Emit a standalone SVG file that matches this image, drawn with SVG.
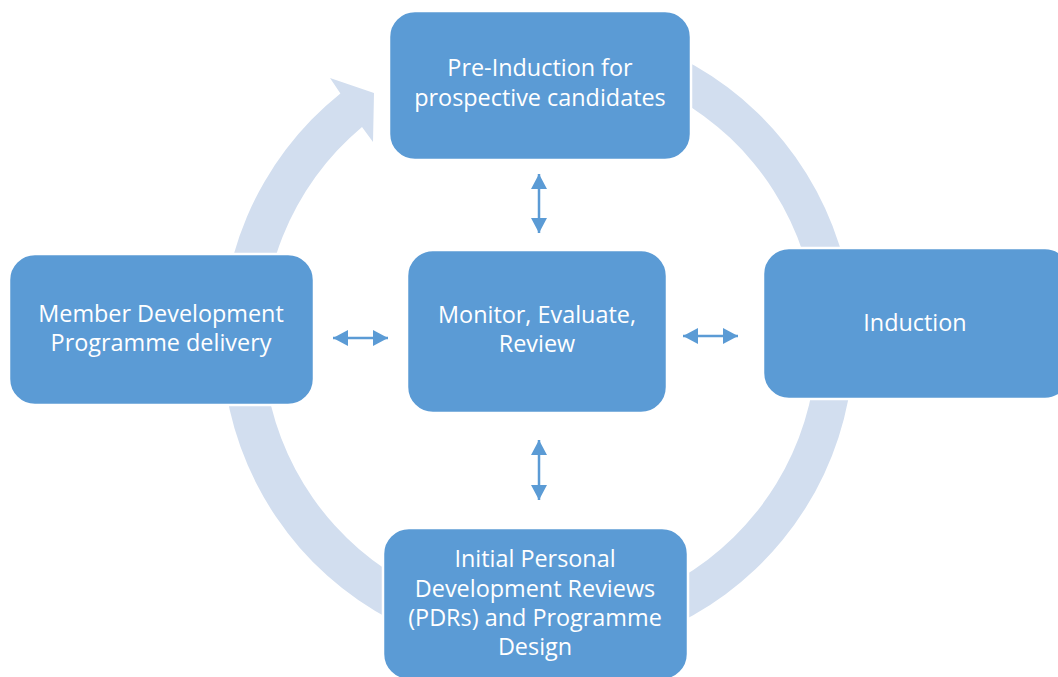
<svg xmlns="http://www.w3.org/2000/svg" width="1058" height="677" viewBox="0 0 1058 677">
  <defs>
    <style>
      .box { fill: #5B9BD5; stroke: #FFFFFF; stroke-width: 2.5; }
      .lbl { fill: #FFFFFF; font-family: "Open Sans", Lato, "Liberation Sans", sans-serif; font-size: 23.4px; text-anchor: middle; font-variant-ligatures: none; }
      .conn { stroke: #5B9BD5; stroke-width: 2.5; fill: none; marker-start: url(#head); marker-end: url(#head); }
      .ring { fill: #D2DEEF; }
    </style>
    <marker id="head" markerUnits="userSpaceOnUse" markerWidth="15" markerHeight="16" viewBox="0 0 15 16" refX="15" refY="8" orient="auto-start-reverse">
      <path d="M0,0 L15,8 L0,16 Z" fill="#5B9BD5"/>
    </marker>
  </defs>
  <rect width="1058" height="677" fill="#FFFFFF"/>
  <path class="ring" d="M 429.9 43.1 A 316 316 0 1 1 340.4 93.4 L 330 78 L 374 93 L 373 142 L 362 127 A 277 277 0 1 0 443.3 79.7 Z"/>

  <g id="connectors">
    <line class="conn" x1="539" y1="174" x2="539" y2="233"/>
    <line class="conn" x1="539" y1="440" x2="539" y2="500"/>
    <line class="conn" x1="333" y1="338" x2="388" y2="338"/>
    <line class="conn" x1="683" y1="336" x2="738" y2="336"/>
  </g>

  <g id="pre-induction">
    <rect class="box" x="389" y="11" width="302" height="149" rx="26"/>
    <text class="lbl" x="540" y="76">Pre-Induction for</text>
    <text class="lbl" x="540" y="106">prospective candidates</text>
  </g>
  <g id="induction">
    <rect class="box" x="763" y="248" width="308" height="151" rx="26"/>
    <text class="lbl" x="915" y="331">Induction</text>
  </g>
  <g id="pdr">
    <rect class="box" x="383" y="528" width="305" height="152" rx="26"/>
    <text class="lbl" x="535" y="567">Initial Personal</text>
    <text class="lbl" x="535" y="597">Development Reviews</text>
    <text class="lbl" x="535" y="626">(PDRs) and Programme</text>
    <text class="lbl" x="535" y="655">Design</text>
  </g>
  <g id="delivery">
    <rect class="box" x="9" y="254" width="305" height="151" rx="26"/>
    <text class="lbl" x="161" y="322">Member Development</text>
    <text class="lbl" x="161" y="351">Programme delivery</text>
  </g>
  <g id="monitor">
    <rect class="box" x="407" y="250" width="260" height="163" rx="26"/>
    <text class="lbl" x="537" y="323">Monitor, Evaluate,</text>
    <text class="lbl" x="537" y="352">Review</text>
  </g>
</svg>
